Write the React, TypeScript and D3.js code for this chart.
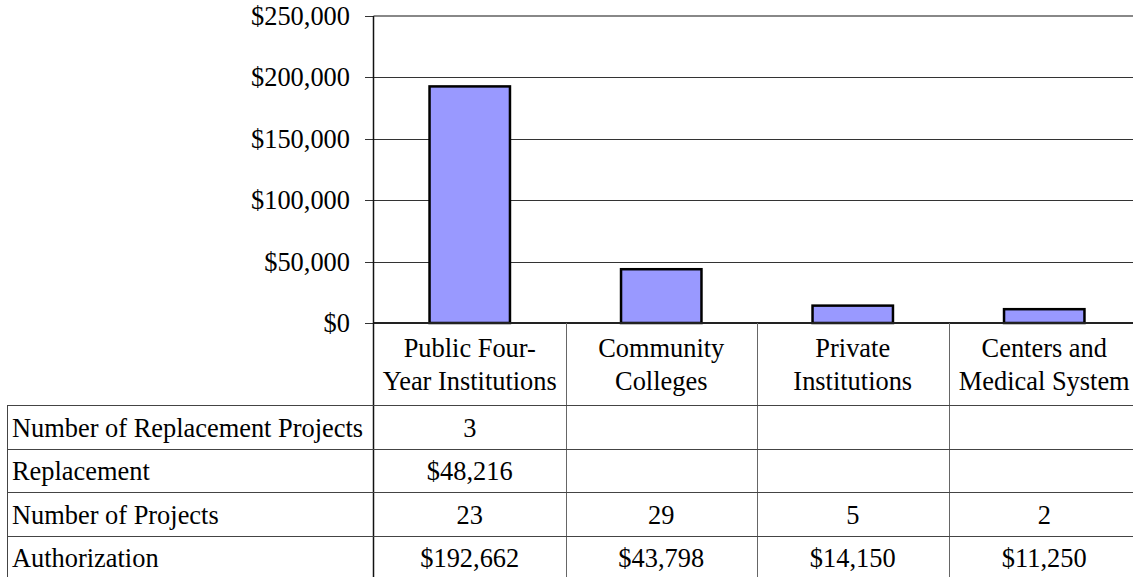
import React from "react";
import * as d3 from "d3";

const categories: string[][] = [
  ["Public Four-", "Year Institutions"],
  ["Community", "Colleges"],
  ["Private", "Institutions"],
  ["Centers and", "Medical System"],
];
const authorization = [192662, 43798, 14150, 11250];
const numProjects = [23, 29, 5, 2];
const numReplacementProjects: (number | null)[] = [3, null, null, null];
const replacement: (number | null)[] = [48216, null, null, null];
const rowLabels = [
  "Number of Replacement Projects",
  "Replacement",
  "Number of Projects",
  "Authorization",
];
const yTicks = [0, 50000, 100000, 150000, 200000, 250000];

const W = 1133;
const H = 577;
const FONT = '"Liberation Serif", Tinos, "Times New Roman", Times, "DejaVu Serif", serif';

export default function App() {
  const money = d3.format("$,.0f");
  const x = d3
    .scaleBand<number>()
    .domain(categories.map((_, i) => i))
    .range([374, 1140])
    .padding(0);
  const y = d3.scaleLinear().domain([0, 250000]).range([323, 16]);
  const rows = d3.scaleBand<string>().domain(rowLabels).range([405, 579]).padding(0);
  const bw = x.bandwidth();
  const barW = bw * 0.42;
  const left = 7.5;
  const axisX = 373.5;
  const rowData: (string | null)[][] = [
    numReplacementProjects.map((v) => (v == null ? null : String(v))),
    replacement.map((v) => (v == null ? null : money(v))),
    numProjects.map((v) => String(v)),
    authorization.map((v) => money(v)),
  ];
  const fs = 26.4;
  const ts = { fontFamily: FONT, fontSize: fs };

  return (
    <svg
      width={W}
      height={H}
      style={{ position: "absolute", left: 0, top: 0, background: "#fff", fontFamily: FONT }}
    >
      <rect x={0} y={0} width={W} height={H} fill="#fff" />
      {yTicks
        .filter((t) => t > 0 && t < 250000)
        .map((t) => (
          <line key={t} x1={365} x2={W} y1={Math.round(y(t)) + 0.5} y2={Math.round(y(t)) + 0.5} stroke="#333" strokeWidth={1} />
        ))}
      <line x1={axisX} x2={W} y1={y(250000)} y2={y(250000)} stroke="#888" strokeWidth={2} />
      {yTicks.map((t) => (
        <g key={"t" + t}>
          <line x1={365} x2={axisX} y1={Math.round(y(t)) + 0.5} y2={Math.round(y(t)) + 0.5} stroke="#333" strokeWidth={1} />
          <text x={350} y={y(t)} textAnchor="end" dominantBaseline="central" fill="#000" style={ts}>
            {money(t)}
          </text>
        </g>
      ))}
      {authorization.map((v, i) => (
        <rect
          key={"b" + i}
          x={(x(i) as number) + (bw - barW) / 2}
          y={y(v)}
          width={barW}
          height={y(0) - y(v)}
          fill="#9999FF"
          stroke="#000"
          strokeWidth={2.5}
        />
      ))}
      <line x1={axisX} x2={W} y1={y(0)} y2={y(0)} stroke="#222" strokeWidth={2} />
      <line x1={axisX} x2={axisX} y1={y(250000)} y2={H} stroke="#111" strokeWidth={1.5} />
      {categories.slice(1).map((_, i) => (
        <line
          key={"d" + i}
          x1={Math.round(x(i + 1) as number) + 0.5}
          x2={Math.round(x(i + 1) as number) + 0.5}
          y1={y(0)}
          y2={H}
          stroke="#666"
          strokeWidth={1}
        />
      ))}
      {categories.map((lines, i) => (
        <text key={"c" + i} x={(x(i) as number) + bw / 2} textAnchor="middle" fill="#000" style={ts}>
          {lines.map((l, j) => (
            <tspan key={j} x={(x(i) as number) + bw / 2} y={357 + j * 33}>
              {l}
            </tspan>
          ))}
        </text>
      ))}
      <line x1={left} x2={left} y1={rows(rowLabels[0])} y2={H} stroke="#444" strokeWidth={1} />
      {rowLabels.map((r) => (
        <line
          key={"r" + r}
          x1={left}
          x2={W}
          y1={Math.round(rows(r) as number) + 0.5}
          y2={Math.round(rows(r) as number) + 0.5}
          stroke="#444"
          strokeWidth={1}
        />
      ))}
      {rowLabels.map((r, ri) => (
        <g key={"rl" + ri}>
          <text x={12} y={(rows(r) as number) + rows.bandwidth() / 2 + 10} fill="#000" style={ts}>
            {r}
          </text>
          {rowData[ri].map((c, ci) =>
            c == null ? null : (
              <text
                key={ci}
                x={(x(ci) as number) + bw / 2}
                y={(rows(r) as number) + rows.bandwidth() / 2 + 10}
                textAnchor="middle"
                fill="#000"
                style={ts}
              >
                {c}
              </text>
            )
          )}
        </g>
      ))}
    </svg>
  );
}
